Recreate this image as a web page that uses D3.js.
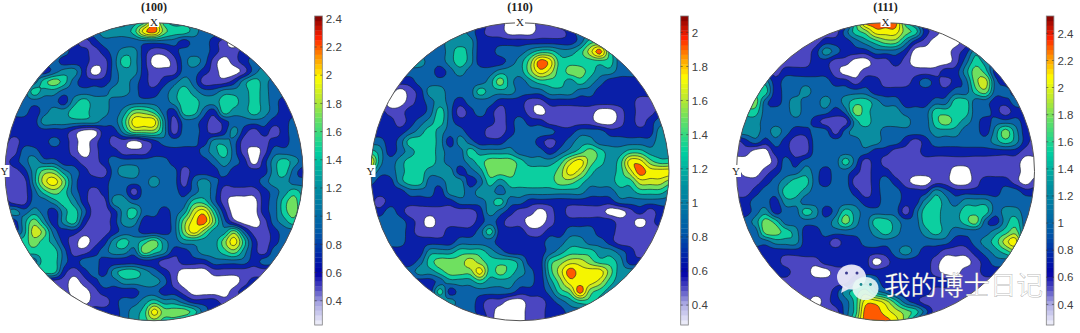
<!DOCTYPE html>
<html><head><meta charset="utf-8">
<style>html,body{margin:0;padding:0;background:#fff}svg{display:block}</style>
<script src="https://cdn.jsdelivr.net/npm/d3@7/dist/d3.min.js"></script>
</head><body><svg id="c" width="1080" height="333"></svg>
<script>
// Band digit at each node of a 31x31 grid: value = 0.28 + 0.2 * digit
const grid100 = [
"33333 33333 33345 85444 33333 33333 3","33333 33333 44458 96554 33333 33333 3","22222 22212 33333 33323 32101 11111 1",
"33333 33221 23442 11233 32112 22222 2","33333 32221 13542 00134 31012 33333 3","33332 34420 13442 11133 21001 34444 4",
"33335 65322 23432 12343 11124 54333 3","33354 43333 34432 23454 33444 54333 3","33333 32454 43333 33455 44554 54322 2",
"33323 44554 43466 53255 32544 54322 2","22224 44444 33588 84133 21233 33223 3","22222 22100 22466 64133 21242 12123 3",
"21222 32101 21101 23333 24431 11223 3","11332 22101 22111 22222 34531 01333 3","12343 32211 23333 33222 23432 02454 3",
"11246 64321 13443 33312 22322 22453 2","11147 86322 23333 43313 43222 23443 3","11135 65321 23313 33323 43111 12345 4",
"21133 45421 14433 33335 53100 02356 4","34343 24531 12453 32347 85200 02356 4","22464 24521 12442 22368 96310 01345 3",
"22476 32211 12332 22368 64463 11233 3","55565 42101 24545 64344 44685 21233 3","55555 53112 34436 54223 44564 21333 3",
"33335 53233 22222 21122 23333 23333 3","55555 52123 24554 32100 01111 11111 1","11111 11012 33444 43100 00001 22222 2",
"11111 11001 22223 32210 00012 22222 2","11111 11101 12334 54432 22111 11111 1","22222 22222 22345 86665 32222 22222 2",
"22222 22222 22345 65543 22222 22222 2"];
const grid110 = [
"33333 33333 33110 00113 33333 33333 3","33333 33334 32110 00111 23333 33333 3","33333 33344 42222 22222 23553 33333 3",
"33333 33345 42233 34554 45795 33333 3","33334 43345 42223 46985 55555 33333 3","33333 33234 33344 46875 66544 33333 3",
"22222 33333 33464 34555 45432 22222 2","11101 24433 35444 33344 43322 22222 2","11001 23432 33322 21122 22222 22111 1",
"22112 23531 23212 21011 11100 12112 2","22212 34532 22212 32211 11100 12123 3","22223 45433 22112 33332 23332 22224 4",
"33235 55424 32223 33212 34433 33334 4","54234 55433 54444 33323 45654 45544 4","84345 55433 45666 54445 78654 58865 5",
"53345 54442 34666 55556 87544 57988 8","32245 53344 23545 55556 65444 55777 6","22223 33244 34434 44444 44333 44555 4",
"21222 22223 33453 32222 22222 33333 3","22321 11111 12432 11012 11110 01212 2","33332 10111 12321 10012 22222 11012 2",
"33332 11122 23522 21122 33322 11111 1","33332 22223 33322 22233 44332 11111 1","22222 24445 55432 22234 55544 32111 1",
"22222 35666 76555 42256 77655 42222 2","33333 44566 68565 43257 98886 44444 4","22222 22344 45444 33246 88875 44444 4",
"22222 22523 33333 22235 69654 44444 4","33333 33343 32110 01123 45544 44444 4","33333 33333 32100 01122 33333 33333 3",
"33333 33333 33100 01122 33333 33333 3"];
const grid111 = [
"11111 11111 11599 99531 11111 11111 1","11111 11111 13568 88652 10011 11111 1","11111 11112 22345 66421 00011 11111 1",
"11111 11124 32223 33200 00124 33333 3","11111 11122 11001 12100 00135 43333 3","22221 22222 10011 11111 12246 52222 2",
"44442 33333 22122 11123 21236 73222 2","55552 33433 33332 22222 22335 63322 2","66632 34334 34554 33222 33553 32233 3",
"55533 34333 23654 44333 55553 32122 2","44433 33321 11454 44433 56543 23332 2","44434 32233 13444 33333 44433 24642 2",
"12323 21133 33344 33212 33333 34542 1","11002 21133 33332 21112 22222 22221 1","00001 32333 35312 11111 11111 11110 0",
"10012 33432 33212 21111 11001 11110 0","11123 45532 33112 32100 11001 22210 1","11233 55433 33212 33222 43222 22332 2",
"22332 44333 33322 33224 54344 43333 3","22342 33542 35433 33135 54455 53443 3","33465 33333 46435 54335 54456 32453 3",
"33366 54223 33334 54334 54333 34563 3","33334 44222 12233 33333 33223 45783 3","22222 22222 22222 23432 21112 34564 4",
"22222 11112 22220 12222 10001 23333 3","22222 21100 11122 22222 10011 22222 2","11111 11111 11343 22222 22111 11111 1",
"11111 11111 24564 32222 11111 11111 1","11111 11101 23588 75321 11111 11111 1","11111 11111 13599 87653 11111 11111 1",
"11111 11111 13699 98631 11111 11111 1"];
const titles = ["(100)","(110)","(111)"];
const discCx = [154, 520, 885.5];
const barX = [314.7, 680.7, 1046.3];
const barDomains = [[0.228,2.42],[0.283,2.096],[0.248,2.528]];
const barTicks = [[0.4,0.6,0.8,1,1.2,1.4,1.6,1.8,2,2.2,2.4],[0.4,0.6,0.8,1,1.2,1.4,1.6,1.8,2],[0.4,0.6,0.8,1,1.2,1.4,1.6,1.8,2,2.2,2.4]];
const thresholds = [0.38,0.58,0.78,0.98,1.18,1.38,1.58,1.78,1.98,2.18];
const bandColors = ["#4b46c1","#0a1fa8","#0a62a8","#0a8da0","#0ccfa0","#6fe060","#cdea22","#f5f500","#ff5a00","#d00000"];
const rampStops = [0,.07,.12,.17,.3,.45,.56,.66,.73,.8,.87,.93,1];
const rampColors = ["#f2f2fb","#a9a7e2","#4b46c1","#0000a8","#0058a8","#0090a0","#00d0a0","#60e068","#b8e830","#ffff00","#ff9000","#ff2000","#800000"];

const svg = d3.select("#c");
const cy = 171.7, R = 149, cell = 10, N = 31, UP = 4;
const defs = svg.append("defs");
const line = d3.line();
const ramp = d3.scaleLinear().domain(rampStops).range(rampColors);
const fmt = d3.format("~g");

// Render-time resampling of the read grid so that the isolines are drawn as smooth curves.
function resample(v){
  const M = (N-1)*UP+1, out = new Float64Array(M*M);
  const at=(i,j)=>v[Math.max(0,Math.min(N-1,j))*N+Math.max(0,Math.min(N-1,i))];
  const cr=(a,b,c,d,t)=>b+0.5*t*(c-a+t*(2*a-5*b+4*c-d+t*(3*(b-c)+d-a)));
  for(let y=0;y<M;y++)for(let x=0;x<M;x++){
    const i=Math.min(N-2,Math.floor(x/UP)),j=Math.min(N-2,Math.floor(y/UP)),tx=x/UP-i,ty=y/UP-j;
    const rows=[-1,0,1,2].map(dj=>cr(at(i-1,j+dj),at(i,j+dj),at(i+1,j+dj),at(i+2,j+dj),tx));
    const s=cr(rows[0],rows[1],rows[2],rows[3],ty);
    const q=[at(i,j),at(i+1,j),at(i,j+1),at(i+1,j+1)];
    out[y*M+x]=Math.max(d3.min(q),Math.min(d3.max(q),s));
  }
  return {out,M};
}

[grid100,grid110,grid111].forEach((rows,k)=>{
  const cx = discCx[k];
  const vals = rows.flatMap(r=>Array.from(r.replace(/ /g,""),d=>0.28+0.2*(+d)));
  const {out,M} = resample(vals);
  const X = d3.scaleLinear().domain([0.5,M-0.5]).range([cx-15*cell,cx+15*cell]);
  const Y = d3.scaleLinear().domain([0.5,M-0.5]).range([cy-15*cell,cy+15*cell]);
  const cs = d3.contours().size([M,M]).smooth(true).thresholds(thresholds)(out);
  defs.append("clipPath").attr("id","d"+k).append("circle").attr("cx",cx).attr("cy",cy).attr("r",R);
  const g = svg.append("g").attr("clip-path",`url(#d${k})`);
  g.append("circle").attr("cx",cx).attr("cy",cy).attr("r",R).attr("fill","#fff");
  cs.forEach((c,i)=>{
    const d = c.coordinates.flatMap(poly=>poly.map(ring=>line(ring.map(p=>[X(p[0]),Y(p[1])])))).join("");
    if(d) g.append("path").attr("d",d).attr("fill",bandColors[i]).attr("fill-rule","evenodd")
      .attr("stroke","#15202a").attr("stroke-width",0.6);
  });
  svg.append("circle").attr("cx",cx).attr("cy",cy).attr("r",R).attr("fill","none").attr("stroke","#555").attr("stroke-width",1);
  svg.append("text").attr("x",cx).attr("y",10.5).attr("text-anchor","middle")
    .attr("font-family","Liberation Serif").attr("font-weight","bold").attr("font-size",12).attr("fill","#222").text(titles[k]);
  svg.append("rect").attr("x",cx-5).attr("y",16.5).attr("width",10).attr("height",10.5).attr("fill","#fff");
  svg.append("text").attr("x",cx).attr("y",25.5).attr("text-anchor","middle")
    .attr("font-family","Liberation Serif").attr("font-size",11).attr("fill","#222").text("X");
  svg.append("rect").attr("x",cx-R-5.5).attr("y",165).attr("width",10).attr("height",12).attr("fill","#fff");
  svg.append("text").attr("x",cx-R-0.5).attr("y",175).attr("text-anchor","middle")
    .attr("font-family","Liberation Serif").attr("font-size",11).attr("fill","#222").text("Y");
  const bx = barX[k], bw = 7.6, top = 16, bot = 325;
  const yS = d3.scaleLinear().domain(barDomains[k]).range([bot,top]);
  const steps = d3.range(64);
  const sh = (bot-top)/64;
  svg.append("g").selectAll("rect").data(steps).join("rect")
    .attr("x",bx).attr("width",bw).attr("y",s=>bot-(s+1)*sh).attr("height",sh+0.3).attr("fill",s=>ramp((s+0.5)/64));
  svg.append("rect").attr("x",bx).attr("y",top).attr("width",bw).attr("height",bot-top).attr("fill","none").attr("stroke","#808080").attr("stroke-width",0.8);
  const axis = d3.axisRight(yS).tickValues(barTicks[k]).tickFormat(fmt).tickSize(0).tickPadding(3.5);
  const ag = svg.append("g").attr("transform",`translate(${bx+bw},0)`).call(axis);
  ag.select(".domain").remove();
  ag.selectAll("text").attr("font-family","Liberation Sans").attr("font-size",11.5).attr("fill","#404040");
  const tk = svg.append("g").selectAll("g").data(barTicks[k]).join("g");
  tk.append("line").attr("x1",bx).attr("x2",bx+2).attr("y1",yS).attr("y2",yS).attr("stroke","#333").attr("stroke-width",0.6);
  tk.append("line").attr("x1",bx+bw-2).attr("x2",bx+bw).attr("y1",yS).attr("y2",yS).attr("stroke","#333").attr("stroke-width",0.6);
});

const wm = svg.append("g");
wm.append("ellipse").attr("cx",851.5).attr("cy",277).attr("rx",14.5).attr("ry",12.5).attr("fill","#eeeefa").attr("opacity",0.92);
wm.append("path").attr("d","M843 285l-2 8 8-4z").attr("fill","#eeeefa").attr("opacity",0.92);
wm.append("circle").attr("cx",846.5).attr("cy",273).attr("r",1.5).attr("fill","#3a3a90");
wm.append("circle").attr("cx",857).attr("cy",273).attr("r",1.5).attr("fill","#3a3a90");
wm.append("ellipse").attr("cx",865.5).attr("cy",288.5).attr("rx",13).attr("ry",11.5).attr("fill","#e8f8f4").attr("opacity",0.9);
wm.append("circle").attr("cx",861).attr("cy",284.5).attr("r",1.4).attr("fill","#1a8a90");
wm.append("circle").attr("cx",870.5).attr("cy",284.5).attr("r",1.4).attr("fill","#1a8a90");
wm.append("text").attr("x",884).attr("y",295).attr("font-family","Noto Sans CJK SC").attr("font-size",26.5)
  .attr("fill","#fff").attr("stroke","#777").attr("stroke-width",0.25).text("我的博士日记");
</script></body></html>
